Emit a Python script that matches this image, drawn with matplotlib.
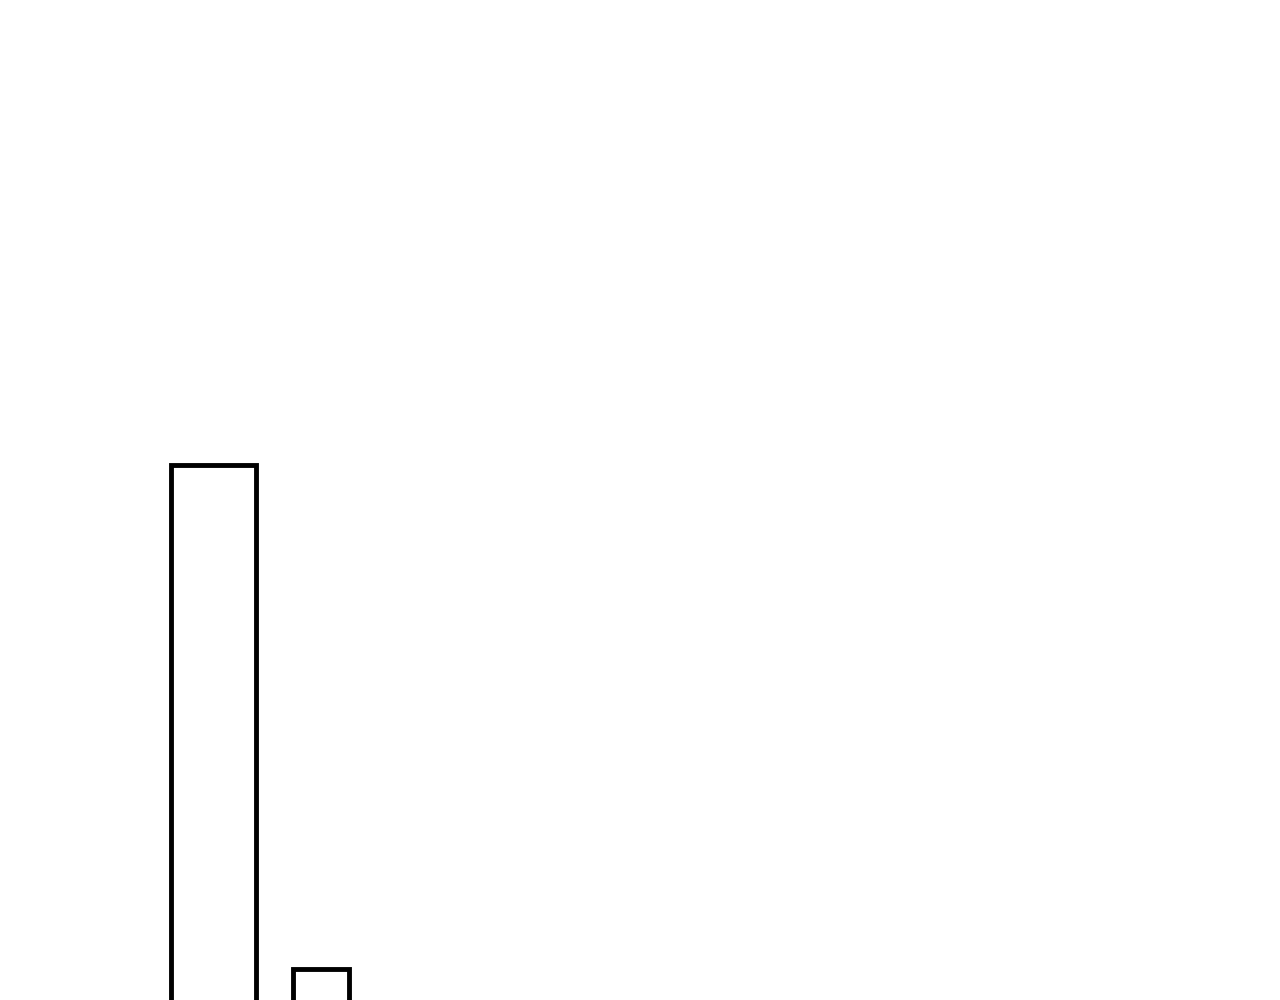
import matplotlib
matplotlib.use("Agg")
import matplotlib.pyplot as plt

categories = ["A", "B"]
values = [54.5, 4.15]

fig = plt.figure(figsize=(12.8, 10), dpi=100)
ax = fig.add_axes([0, 0, 1, 1])
positions = [2.138, 3.205]
widths = [0.85, 0.56]
ax.bar(positions, values, width=widths, facecolor="white",
       edgecolor="black", linewidth=3.5, bottom=0)
ax.set_xlim(0, 12.8)
ax.set_ylim(1, 101)
ax.axis("off")
fig.savefig("out.png", dpi=100, facecolor="white")
